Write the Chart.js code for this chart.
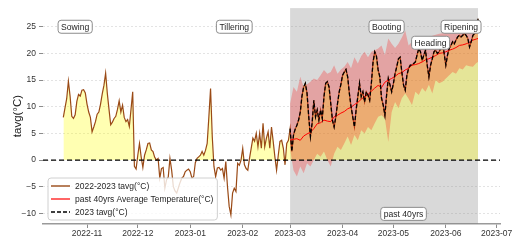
<!DOCTYPE html>
<html>
<head>
<meta charset="utf-8">
<script src="https://cdn.jsdelivr.net/npm/chart.js@4.4.1/dist/chart.umd.min.js"></script>
<style>
  body { margin: 0; background: #fff; }
  canvas { display: block; }
</style>
</head>
<body>
<canvas id="tempChart" width="523" height="246"></canvas>
<script>
// daily mean temperature, day 0 = 2022-10-18 ... day 245 = 2023-06-20
const tavgValues = [
  8.0, 9.8, 11.5, 14.8, 12.0, 8.2, 7.8, 8.5, 11.0, 12.3,
  12.0, 13.1, 13.2, 12.6, 10.5, 9.0, 8.0, 5.3, 6.2, 7.2,
  8.6, 9.0, 10.5, 12.4, 14.0, 16.3, 12.5, 9.5, 6.6, 7.1,
  7.8, 8.2, 9.5, 11.1, 9.0, 10.3, 8.0, 7.2, 7.6, 6.3,
  9.5, 12.8, -1.2, -1.7, 0.9, 3.1, 0.6, -1.4, 0.9, 1.9,
  3.1, 3.2, 1.9, 1.6, 0.5, 0.0, 0.3, -3.4, -1.6, -1.4,
  -5.3, -3.7, -3.2, 0.3, -1.9, -5.0, -5.8, -6.2, -5.2, -4.2,
  -3.4, -3.1, -2.2, -1.9, -1.7, -2.2, -3.4, -3.1, -0.5, 0.3,
  0.6, 0.9, 1.6, 0.9, 1.8, 3.1, 8.1, 13.4, 4.4, -1.2,
  -3.1, -1.5, -1.4, -1.9, -1.6, -3.4, -0.3, -5.0, -8.7, -10.3,
  -6.2, -5.3, -5.9, -0.6, -1.0, 0.0, 2.2, -0.9, -1.6, -1.9,
  0.3, 2.2, 4.1, 3.5, 5.0, 2.5, 5.0, 2.2, 6.9, 2.5,
  4.1, 5.3, 2.2, 6.2, 3.5, 0.6, -1.9, 0.9, 3.5, 3.7,
  2.2, -0.9, 3.1, 3.7, 5.9, 1.6, 4.7, 5.8, 6.5, 7.5,
  9.0, 12.0, 13.7, 14.4, 12.5, 8.1, 4.4, 6.9, 11.2, 8.1,
  9.4, 7.5, 9.4, 7.8, 11.9, 14.4, 14.7, 13.7, 10.6, 7.5,
  6.2, 8.1, 10.6, 12.8, 14.2, 15.9, 16.5, 17.0, 15.6, 12.5,
  10.0, 8.1, 6.2, 9.4, 11.9, 14.4, 11.9, 12.8, 10.9, 12.8,
  12.2, 11.2, 14.4, 18.4, 20.3, 19.5, 16.9, 15.6, 11.6, 10.3,
  8.4, 12.2, 15.3, 14.1, 12.8, 14.3, 16.2, 17.5, 19.0, 19.3,
  16.5, 14.1, 13.1, 15.9, 17.2, 17.8, 17.8, 18.1, 18.4, 19.7,
  20.9, 20.3, 18.7, 19.7, 20.6, 17.8, 15.6, 17.8, 19.0, 20.3,
  20.6, 20.0, 20.3, 21.0, 22.2, 20.0, 17.8, 19.7, 21.0, 21.5,
  22.2, 21.8, 22.5, 23.1, 23.4, 23.1, 23.4, 23.7, 23.4, 22.8,
  21.2, 22.2, 23.4, 23.7, 24.0, 26.5
];
const season2023Start = 134; // 2023-03-01

// past 40 years: average and range, from 2023-03-01
const pastDays = [134, 136, 138, 140, 142, 144, 146, 148, 150, 152, 154, 156, 158, 160, 162,
  164, 166, 168, 170, 172, 174, 176, 178, 180, 182, 184, 186, 188, 190, 192, 194, 196, 198,
  200, 202, 204, 206, 208, 210, 212, 214, 216, 218, 220, 222, 224, 226, 228, 230, 232, 234,
  236, 238, 240, 242, 244, 245];
const pastAvg = [3.7, 3.9, 4.0, 3.7, 4.5, 4.9, 5.2, 5.9, 6.8, 7.0, 7.5, 7.3, 7.2, 8.1, 8.4,
  8.8, 9.1, 9.6, 9.9, 10.4, 10.8, 11.4, 11.9, 12.3, 12.9, 13.5, 14.0, 13.6, 14.6, 15.0, 15.3,
  15.7, 16.2, 16.4, 16.9, 17.2, 17.8, 17.9, 18.1, 18.4, 18.8, 19.0, 19.3, 19.6, 20.0, 20.1,
  20.3, 20.6, 20.8, 21.1, 21.5, 21.6, 21.8, 22.1, 22.5, 22.7, 22.8];
const pastLow = [2.0, -1.9, -3.1, -1.2, -2.5, -0.6, -1.2, 0.0, 1.2, 0.6, 1.6, 0.0, -1.2, 1.2,
  2.5, 1.9, 3.1, 4.4, 2.8, 4.7, 3.7, 5.6, 5.0, 6.2, 5.6, 6.9, 8.1, 8.4, 7.8, 3.4, 9.0, 10.9,
  9.7, 11.6, 12.5, 11.5, 10.3, 12.8, 12.2, 13.5, 12.8, 14.1, 12.5, 15.0, 14.4, 14.7, 15.3,
  15.9, 16.5, 16.2, 17.2, 17.0, 17.8, 17.6, 17.5, 18.2, 18.4];
const pastHigh = [10.6, 13.7, 12.8, 15.6, 13.7, 14.2, 14.7, 15.3, 15.0, 15.9, 16.9, 16.2,
  16.5, 17.8, 16.2, 17.0, 17.5, 18.4, 17.2, 19.3, 18.1, 19.5, 20.3, 19.3, 20.3, 20.6, 20.9,
  21.5, 19.7, 22.8, 21.8, 21.0, 21.8, 23.0, 24.3, 21.5, 22.2, 23.1, 23.0, 22.2, 22.8, 23.1,
  23.3, 23.5, 23.7, 23.8, 24.0, 24.1, 24.3, 24.5, 24.7, 24.9, 25.0, 25.3, 25.5, 25.8, 25.9];

const monthTickDays = [14, 44, 75, 106, 134, 165, 195, 226, 256];
const monthTickLabels = ['2022-11', '2022-12', '2023-01', '2023-02', '2023-03',
  '2023-04', '2023-05', '2023-06', '2023-07'];
const yTickValues = [-10, -5, 0, 5, 10, 15, 20, 25];

const stageNames = ['Sowing', 'Tillering', 'Booting', 'Heading', 'Ripening'];
const stageDays = [7, 101, 191, 217, 235];
const stageTemps = [25, 25, 25, 22, 25];
const rangeNote = { text: 'past 40yrs', day: 201, temp: -10.1 };

const xMin = -12, xMax = 258;
const FONT = '"Liberation Sans", Arial, sans-serif';

const toPoints = (days, vals) => vals.map((v, i) => ({ x: days[i], y: v }));
const allDays = tavgValues.map((v, i) => i);

// grey shading for the 2023 season
const shadePlugin = {
  id: 'shade',
  beforeDatasetsDraw(chart) {
    const { ctx, chartArea, scales: { x } } = chart;
    const x0 = x.getPixelForValue(season2023Start);
    const x1 = x.getPixelForValue(tavgValues.length - 1);
    ctx.save();
    ctx.fillStyle = 'rgba(128,128,128,0.3)';
    ctx.fillRect(x0, chartArea.top, x1 - x0, chartArea.bottom - chartArea.top);
    ctx.restore();
  }
};

function boxedText(ctx, text, cx, cy) {
  ctx.font = '8.6px ' + FONT;
  const w = ctx.measureText(text).width + 6;
  const h = 13;
  ctx.beginPath();
  ctx.roundRect(cx - w / 2, cy - h / 2, w, h, 3);
  ctx.fillStyle = '#fff';
  ctx.fill();
  ctx.lineWidth = 1;
  ctx.strokeStyle = '#8c8c8c';
  ctx.stroke();
  ctx.fillStyle = '#262626';
  ctx.textAlign = 'center';
  ctx.textBaseline = 'middle';
  ctx.fillText(text, cx, cy + 0.5);
}

// growth stage labels + in-plot legend
const labelPlugin = {
  id: 'labels',
  afterDatasetsDraw(chart) {
    const { ctx, chartArea, scales: { x, y } } = chart;
    ctx.save();
    stageNames.forEach((name, i) => {
      boxedText(ctx, name, x.getPixelForValue(stageDays[i]), y.getPixelForValue(stageTemps[i]));
    });
    boxedText(ctx, rangeNote.text, x.getPixelForValue(rangeNote.day), y.getPixelForValue(rangeNote.temp));

    const items = chart.data.datasets.filter(d => d.inLegend);
    ctx.font = '8.5px ' + FONT;
    const textW = Math.max(...items.map(d => ctx.measureText(d.label).width));
    const lx = chartArea.left + 5, rowH = 13;
    const bw = 31 + textW, bh = items.length * rowH + 3;
    const by = chartArea.bottom - 4 - bh;
    ctx.beginPath();
    ctx.roundRect(lx, by, bw, bh, 3);
    ctx.fillStyle = 'rgba(255,255,255,0.8)';
    ctx.fill();
    ctx.lineWidth = 1;
    ctx.strokeStyle = '#d0d0d0';
    ctx.stroke();
    items.forEach((d, i) => {
      const cy = by + 8 + i * rowH;
      ctx.beginPath();
      ctx.setLineDash(d.borderDash || []);
      ctx.strokeStyle = d.borderColor;
      ctx.lineWidth = d.borderWidth + 0.2;
      ctx.moveTo(lx + 3, cy);
      ctx.lineTo(lx + 22, cy);
      ctx.stroke();
      ctx.setLineDash([]);
      ctx.fillStyle = '#262626';
      ctx.textAlign = 'left';
      ctx.textBaseline = 'middle';
      ctx.fillText(d.label, lx + 27, cy + 0.5);
    });
    ctx.restore();
  }
};

const ctx = document.getElementById('tempChart').getContext('2d');
const tempChart = new Chart(ctx, {
  type: 'line',
  data: {
    datasets: [
      {
        label: '2022-2023 tavg(°C)',
        data: toPoints(allDays, tavgValues),
        borderColor: '#9a4a16',
        borderWidth: 1.2,
        fill: { target: { value: 0 }, above: 'rgba(255,255,0,0.3)', below: 'rgba(0,0,0,0)' },
        order: 6,
        inLegend: true
      },
      {
        label: 'past 40yrs Average Temperature(°C)',
        data: toPoints(pastDays, pastAvg),
        borderColor: '#ff0000',
        borderWidth: 1,
        fill: false,
        order: 3,
        inLegend: true
      },
      {
        label: '2023 tavg(°C)',
        data: toPoints(allDays.slice(season2023Start), tavgValues.slice(season2023Start)),
        borderColor: '#000000',
        borderWidth: 1.3,
        borderDash: [4, 2],
        fill: false,
        order: 2,
        inLegend: true
      },
      {
        label: 'past 40yrs low',
        data: toPoints(pastDays, pastLow),
        borderColor: 'rgba(0,0,0,0)',
        borderWidth: 0,
        fill: false,
        order: 5
      },
      {
        label: 'past 40yrs high',
        data: toPoints(pastDays, pastHigh),
        borderColor: 'rgba(0,0,0,0)',
        borderWidth: 0,
        fill: { target: 3, above: 'rgba(255,0,0,0.25)', below: 'rgba(255,0,0,0.25)' },
        order: 4
      },
      {
        label: 'zero',
        data: [{ x: xMin, y: 0 }, { x: xMax, y: 0 }],
        borderColor: '#000000',
        borderWidth: 1.2,
        borderDash: [5, 3],
        fill: false,
        order: 1
      }
    ]
  },
  options: {
    responsive: false,
    animation: false,
    events: [],
    devicePixelRatio: 1,
    layout: { padding: { top: 8, right: 23, left: 0, bottom: 0 } },
    elements: { point: { radius: 0 }, line: { tension: 0 } },
    plugins: {
      legend: { display: false },
      tooltip: { enabled: false }
    },
    scales: {
      x: {
        type: 'linear',
        min: xMin,
        max: xMax,
        afterBuildTicks: (scale) => { scale.ticks = monthTickDays.map(v => ({ value: v })); },
        afterFit: (scale) => { scale.height = 22; },
        ticks: {
          autoSkip: false,
          maxRotation: 0,
          padding: 1,
          color: '#333',
          font: { family: FONT, size: 8.5 },
          callback: (value) => monthTickLabels[monthTickDays.indexOf(value)]
        },
        grid: { drawOnChartArea: false, drawTicks: true, tickLength: 4, tickColor: '#8c8c8c', tickWidth: 1 },
        border: { display: true, color: '#9a9a9a', width: 1.5 }
      },
      y: {
        min: -12,
        max: 28.5,
        afterBuildTicks: (scale) => { scale.ticks = yTickValues.map(v => ({ value: v })); },
        afterFit: (scale) => { scale.width = 43; },
        ticks: {
          padding: 3,
          color: '#333',
          font: { family: FONT, size: 8.5 },
          callback: (value) => String(value).replace('-', '\u2212')
        },
        grid: { color: '#dcdcdc', lineWidth: 0.8, tickLength: 4, tickColor: '#8c8c8c', tickWidth: 1 },
        border: { display: false, dash: [2, 2] },
        title: {
          display: true,
          text: 'tavg(°C)',
          color: '#222',
          font: { family: FONT, size: 11.5 },
          padding: { top: 11, bottom: 0 }
        }
      }
    }
  },
  plugins: [shadePlugin, labelPlugin]
});
</script>
</body>
</html>
